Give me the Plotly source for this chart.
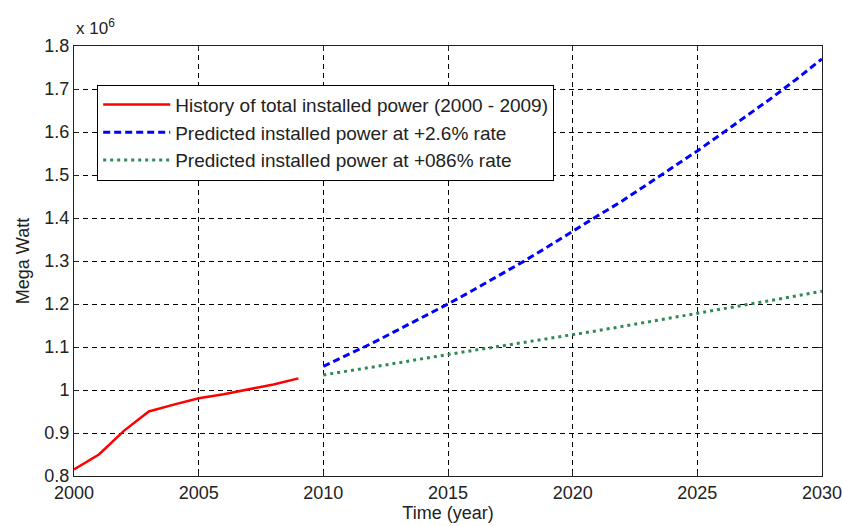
import plotly.graph_objects as go

# Values in units of 10^6 MW (as shown on the axis)
hist_years = [2000, 2001, 2002, 2003, 2004, 2005, 2006, 2007, 2008, 2009]
hist_power = [0.815, 0.850, 0.905, 0.950, 0.966, 0.981, 0.990, 1.001, 1.013, 1.027]

pred_years = [2010, 2011, 2012, 2013, 2014, 2015, 2016, 2017, 2018, 2019, 2020,
              2021, 2022, 2023, 2024, 2025, 2026, 2027, 2028, 2029, 2030]
pred_high = [1.055, 1.082, 1.110, 1.140, 1.170, 1.200, 1.232, 1.265, 1.298, 1.333, 1.370,
             1.405, 1.440, 1.478, 1.517, 1.556, 1.597, 1.638, 1.680, 1.724, 1.770]
pred_low = [1.035, 1.044, 1.053, 1.063, 1.073, 1.083, 1.092, 1.101, 1.110, 1.119, 1.129,
            1.138, 1.148, 1.158, 1.168, 1.178, 1.188, 1.198, 1.208, 1.219, 1.230]

x_ticks = [2000, 2005, 2010, 2015, 2020, 2025, 2030]
x_tick_text = ["2000", "2005", "2010", "2015", "2020", "2025", "2030"]
y_ticks = [0.8, 0.9, 1.0, 1.1, 1.2, 1.3, 1.4, 1.5, 1.6, 1.7, 1.8]
y_tick_text = ["0.8", "0.9", "1", "1.1", "1.2", "1.3", "1.4", "1.5", "1.6", "1.7", "1.8"]

names = ["History of total installed power (2000 - 2009)",
         "Predicted installed power at +2.6% rate",
         "Predicted installed power at +086% rate"]

FONT = "Liberation Sans, Arial, sans-serif"

fig = go.Figure()
fig.add_trace(go.Scatter(x=hist_years, y=hist_power, mode="lines", name=names[0],
                         line=dict(color="#ff0000", width=2.5)))
fig.add_trace(go.Scatter(x=pred_years, y=pred_high, mode="lines", name=names[1],
                         line=dict(color="#0000ff", width=3, dash="7px,4px")))
fig.add_trace(go.Scatter(x=pred_years, y=pred_low, mode="lines", name=names[2],
                         line=dict(color="#2e8b57", width=3, dash="3px,4px")))

axis_common = dict(
    showline=True, linecolor="#222222", linewidth=1, mirror="ticks",
    ticks="inside", ticklen=5, tickcolor="#222222",
    showgrid=True, gridcolor="#000000", gridwidth=1, griddash="5px,4px",
    zeroline=False, tickfont=dict(family=FONT, size=18, color="#222222"),
    automargin=False, ticklabeloverflow="allow",
)

fig.update_xaxes(range=[2000, 2030], tickvals=x_ticks, ticktext=x_tick_text,
                 title=dict(text="Time (year)", font=dict(family=FONT, size=18, color="#222222"),
                            standoff=4),
                 **axis_common)
fig.update_yaxes(range=[0.8, 1.8], tickvals=y_ticks, ticktext=y_tick_text,
                 title=dict(text="Mega Watt", font=dict(family=FONT, size=18, color="#222222"),
                            standoff=10),
                 **axis_common)

fig.add_annotation(text="x 10<sup>6</sup>", xref="paper", yref="paper",
                   x=0.0, y=1.0, xanchor="left", yanchor="bottom", yshift=6,
                   showarrow=False, font=dict(family=FONT, size=17, color="#222222"))

fig.update_layout(
    width=842, height=526,
    margin=dict(l=74, r=20, t=46, b=50),
    paper_bgcolor="white", plot_bgcolor="white",
    showlegend=True,
    legend=dict(x=0.031, y=0.91, xanchor="left", yanchor="top",
                bgcolor="white", bordercolor="#000000", borderwidth=1,
                font=dict(family=FONT, size=19, color="#222222"),
                itemwidth=67, tracegroupgap=0),
)

fig.write_html("out.html", config={"displayModeBar": False},
               post_script="document.body.style.margin='0';document.body.style.overflow='hidden';")
